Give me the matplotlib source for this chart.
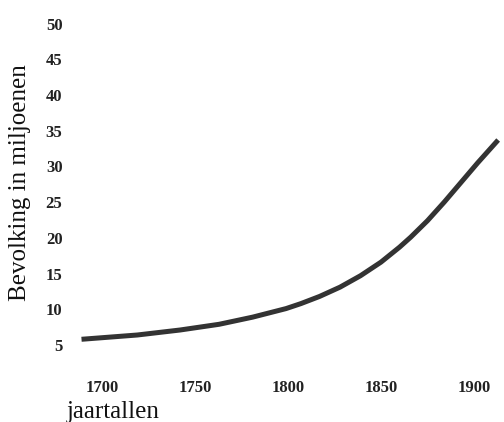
import matplotlib
matplotlib.use("Agg")
import matplotlib.pyplot as plt

# jaartallen en bevolking (miljoenen)
jaren = [1689, 1719, 1742, 1763, 1781, 1799, 1807, 1817, 1828, 1839, 1850, 1860, 1866, 1875, 1884, 1902, 1913]
bevolking = [5.8, 6.4, 7.1, 7.9, 8.9, 10.1, 10.8, 11.8, 13.1, 14.7, 16.6, 18.7, 20.1, 22.4, 25.0, 30.5, 33.7]

x_ticks = [1700, 1750, 1800, 1850, 1900]
y_ticks = [5, 10, 15, 20, 25, 30, 35, 40, 45, 50]

W, H = 504, 422
fig = plt.figure(figsize=(W / 100, H / 100), dpi=100)
# axes in pixels: left 75, right 500, top 15, bottom 365
ax = fig.add_axes([75 / W, (H - 365) / H, (500 - 75) / W, (365 - 15) / H])

ax.plot(jaren, bevolking, color='#333333', linewidth=3.6, solid_capstyle='butt', solid_joinstyle='round')

ax.set_xlim(1685.5, 1914.0)
ax.set_ylim(2.2, 51.2)
ax.set_xticks(x_ticks)
ax.set_yticks(y_ticks)
for s in ax.spines.values():
    s.set_visible(False)
ax.tick_params(length=0)
ax.tick_params(axis='y', pad=9)
ax.tick_params(axis='x', pad=11)
for lab in ax.get_xticklabels() + ax.get_yticklabels():
    lab.set_fontfamily('Liberation Serif')
    lab.set_fontweight('bold')
    lab.set_fontsize(12)
    lab.set_color('#222222')

fig.text(20 / W, 1 - 183 / H, 'Bevolking in miljoenen', rotation=90, ha='center', va='center',
         fontfamily='Liberation Serif', fontsize=18, color='#111111')
fig.text(67 / W, 1 - 418 / H, 'jaartallen', ha='left', va='baseline',
         fontfamily='Liberation Serif', fontsize=18, color='#111111')

fig.savefig('out.png', dpi=100)
